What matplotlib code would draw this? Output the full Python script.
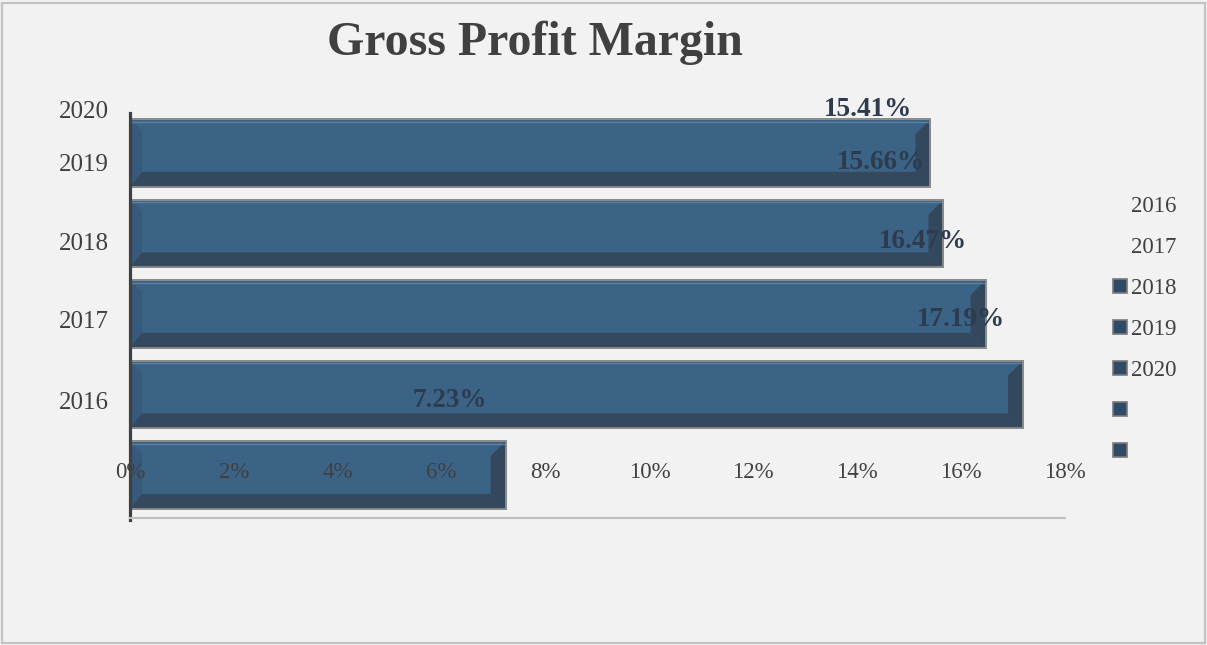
import matplotlib
matplotlib.use("Agg")
import matplotlib.pyplot as plt
from matplotlib.patches import Polygon, Rectangle
from matplotlib.lines import Line2D
import numpy as np

# ---- data ----
years = ["2016", "2017", "2018", "2019", "2020"]
margins = [7.23, 17.19, 16.47, 15.66, 15.41]          # percent
value_labels = ["7.23%", "17.19%", "16.47%", "15.66%", "15.41%"]
x_ticks = [0, 2, 4, 6, 8, 10, 12, 14, 16, 18]
x_tick_labels = [f"{t}%" for t in x_ticks]
legend_labels = ["2016", "2017", "2018", "2019", "2020", "", ""]
title = "Gross Profit Margin"

# ---- style / layout ----
label_pos = [0.93, 1.93, 2.90, 3.88, 4.54]   # (misplaced) label rows as in original
W, H = 1207, 645
BG = "#F2F2F2"
FRONT = "#3B6386"
LEFT = "#37597B"
BOTTOM = "#34495E"
RIGHT = "#33475D"
EDGE = "#8C8C8C"
SERIF = "Liberation Serif"

plt.rcParams["font.family"] = [SERIF, "DejaVu Serif"]

fig = plt.figure(figsize=(W / 100, H / 100), dpi=100)
fig.patch.set_facecolor(BG)

def fx(px):
    return px / W

def fy(py):
    return 1 - py / H

# figure border
fig.add_artist(Rectangle((fx(1.5), fy(643)), fx(1204.5) - fx(1.5), fy(2.5) - fy(643),
                         transform=fig.transFigure, fill=False, edgecolor="#C3C3C3",
                         linewidth=1.6))

ax = fig.add_axes([fx(130), fy(518), fx(1065) - fx(130), fy(72.5) - fy(518)])
ax.set_facecolor("none")
ax.set_xlim(0, 18)
ax.set_ylim(-0.534, 5.0)

ypos = np.arange(len(years))
bars = ax.barh(ypos, margins, height=0.84, color=FRONT, edgecolor=EDGE, linewidth=1.3, zorder=1)

# pixel -> data conversions for the bevel
px_x = 18 / (1065 - 130)
px_y = 5.534 / (518 - 72.5)
bl = 12 * px_x
br = 15 * px_x
bb = 15 * px_y
for b in bars:
    x0, y0 = b.get_x(), b.get_y()
    w, h = b.get_width(), b.get_height()
    x1, y1 = x0 + w, y0 + h
    left = Polygon([(x0, y0), (x0, y1), (x0 + bl, y1 - 12 * px_y), (x0 + bl, y0 + bb)],
                   closed=True, facecolor=LEFT, edgecolor="none", zorder=1.1)
    right = Polygon([(x1, y0), (x1, y1), (x1 - br, y1 - 15 * px_y), (x1 - br, y0 + bb)],
                    closed=True, facecolor=RIGHT, edgecolor="none", zorder=1.1)
    bottom = Polygon([(x0, y0), (x1, y0), (x1 - br, y0 + bb), (x0 + bl, y0 + bb)],
                     closed=True, facecolor=BOTTOM, edgecolor="none", zorder=1.2)
    for p in (left, right, bottom):
        ax.add_patch(p)
    ax.plot([x0 + 1 * px_x, x1 - 1 * px_x], [y1 - 2.5 * px_y, y1 - 2.5 * px_y],
            color="#5F7F9E", linewidth=1.0, zorder=1.3)
    ax.add_patch(Rectangle((x0, y0), w, h, fill=False, edgecolor=EDGE, linewidth=1.3, zorder=1.4))

# data labels (shifted like the original)
for v, lab, yp in zip(margins, value_labels, label_pos):
    ax.text(v - 0.35, yp, lab, ha="right", va="center", fontsize=19.5, fontweight="bold",
            color="#2E3B4F", zorder=3)

# axes styling
ax.set_xticks(x_ticks, x_tick_labels)
ax.set_yticks(label_pos, years)
ax.tick_params(axis="x", length=0, pad=-40, labelsize=16.5, labelcolor="#404040")
ax.tick_params(axis="y", length=0, pad=15, labelsize=18, labelcolor="#404040")
for s in ("top", "right"):
    ax.spines[s].set_visible(False)
ax.spines["left"].set_color("#404040")
ax.spines["left"].set_linewidth(2.3)
ax.spines["left"].set_bounds(-0.56, 4.50)
ax.spines["bottom"].set_color("#BFBFBF")
ax.spines["bottom"].set_linewidth(1.5)

# title
fig.text(fx(535), fy(55), title, ha="center", va="baseline", fontsize=34.5,
         fontweight="bold", color="#404040")

# legend (broken alignment, as in original)
handles = []
for i, lab in enumerate(legend_labels):
    if i < 2:
        handles.append(Line2D([], [], linestyle="none", marker=None))
    else:
        handles.append(Line2D([], [], linestyle="none", marker="s", markersize=10.5,
                              markerfacecolor="#2F4B68", markeredgecolor="#7A7A7A",
                              markeredgewidth=1.2))
fig.legend(handles, legend_labels, loc="upper left", bbox_to_anchor=(fx(1111), fy(196)),
           frameon=False, borderpad=0, borderaxespad=0, handlelength=0.75,
           handletextpad=0.12, labelspacing=0.87,
           prop={"family": SERIF, "size": 16.5}, labelcolor="#404040")

fig.savefig("out.png", dpi=100, facecolor=BG)
